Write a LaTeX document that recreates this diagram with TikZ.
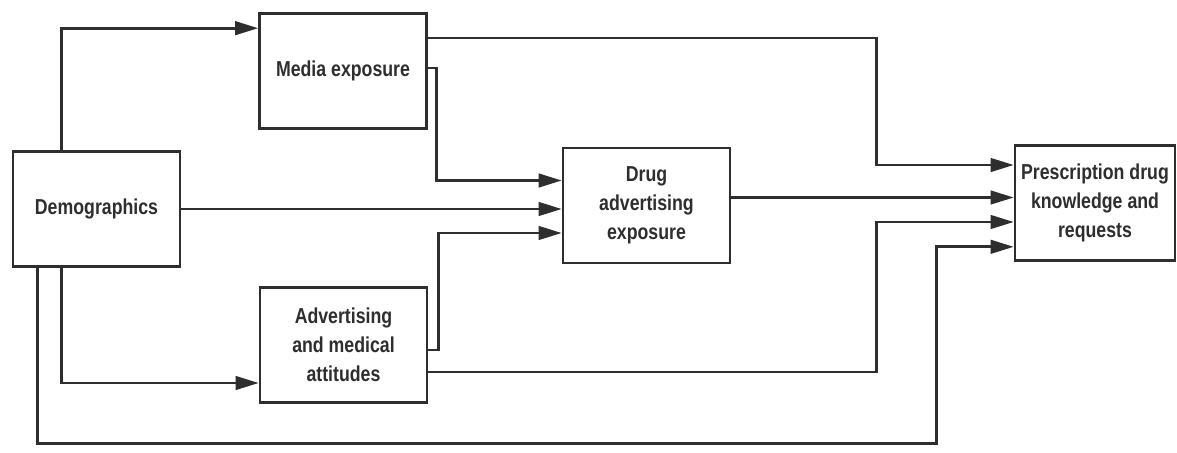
\documentclass[tikz,border=0pt]{standalone}
\usepackage{fontspec}
\usepackage{xcolor}
\usepackage{tikz}
\usetikzlibrary{positioning, arrows.meta}
\newfontfamily\diagfont{Liberation Sans}[FakeStretch=0.82]
\definecolor{dgink}{HTML}{2E2E2E}
\definecolor{dgbg}{HTML}{FFFFFF}

\begin{document}
\begin{tikzpicture}[x=0.02cm, y=-0.02cm,
  box/.style={draw=dgink, line width=1.5pt, align=center, minimum width=3.34cm, minimum height=2.3cm, inner sep=2pt, font=\diagfont\bfseries\fontsize{12.3}{16.5}\selectfont, text=dgink},
  arr/.style={-{Triangle[length=0.46cm, width=0.27cm]}, line width=1.5pt, dgink}
]
  \fill[dgbg] (0,0) rectangle (1177,453);
  \useasboundingbox (0,0) rectangle (1177,453);

  \node[box] (demo) at (96.5, 209) {Demographics};
  \node[box] (media) at (343, 71) {Media exposure};
  \node[box] (drug) at (646.5, 205.5) {Drug\\advertising\\exposure};
  \node[box] (att) at (343.5, 345) {Advertising\\and medical\\attitudes};
  \node[box, minimum width=3.2cm] (presc) at (1095, 203) {Prescription drug\\knowledge and\\requests};

  \draw[arr] ([xshift=1cm]demo.north west) |- ([yshift=-0.32cm]media.north west);
  \draw[arr] ([xshift=1cm]demo.south west) |- ([yshift=-0.76cm]att.west);
  \draw[arr] (demo.east) -- (demo.east -| drug.west);
  \draw[arr] ([xshift=0.52cm]demo.south west) -- ++(0,-3.52cm) -- ++(17.98cm,0) |- ([yshift=0.3cm]presc.south west);
  \draw[arr] ([yshift=0.66cm]media.east) -- ++(8.98cm,0) |- ([yshift=0.76cm]presc.west);
  \draw[arr] ([yshift=0.06cm]media.east) -- ++(0.18cm,0) |- ([yshift=0.5cm]drug.west);
  \draw[arr] ([yshift=-0.1cm]att.east) -- ++(0.2cm,0) |- ([yshift=-0.55cm]drug.west);
  \draw[arr] ([yshift=-0.54cm]att.east) -- ++(8.96cm,0) |- ([yshift=-0.38cm]presc.west);
  \draw[arr] ([yshift=0.16cm]drug.east) coordinate (dout) -- (dout -| presc.west);
\end{tikzpicture}
\end{document}
